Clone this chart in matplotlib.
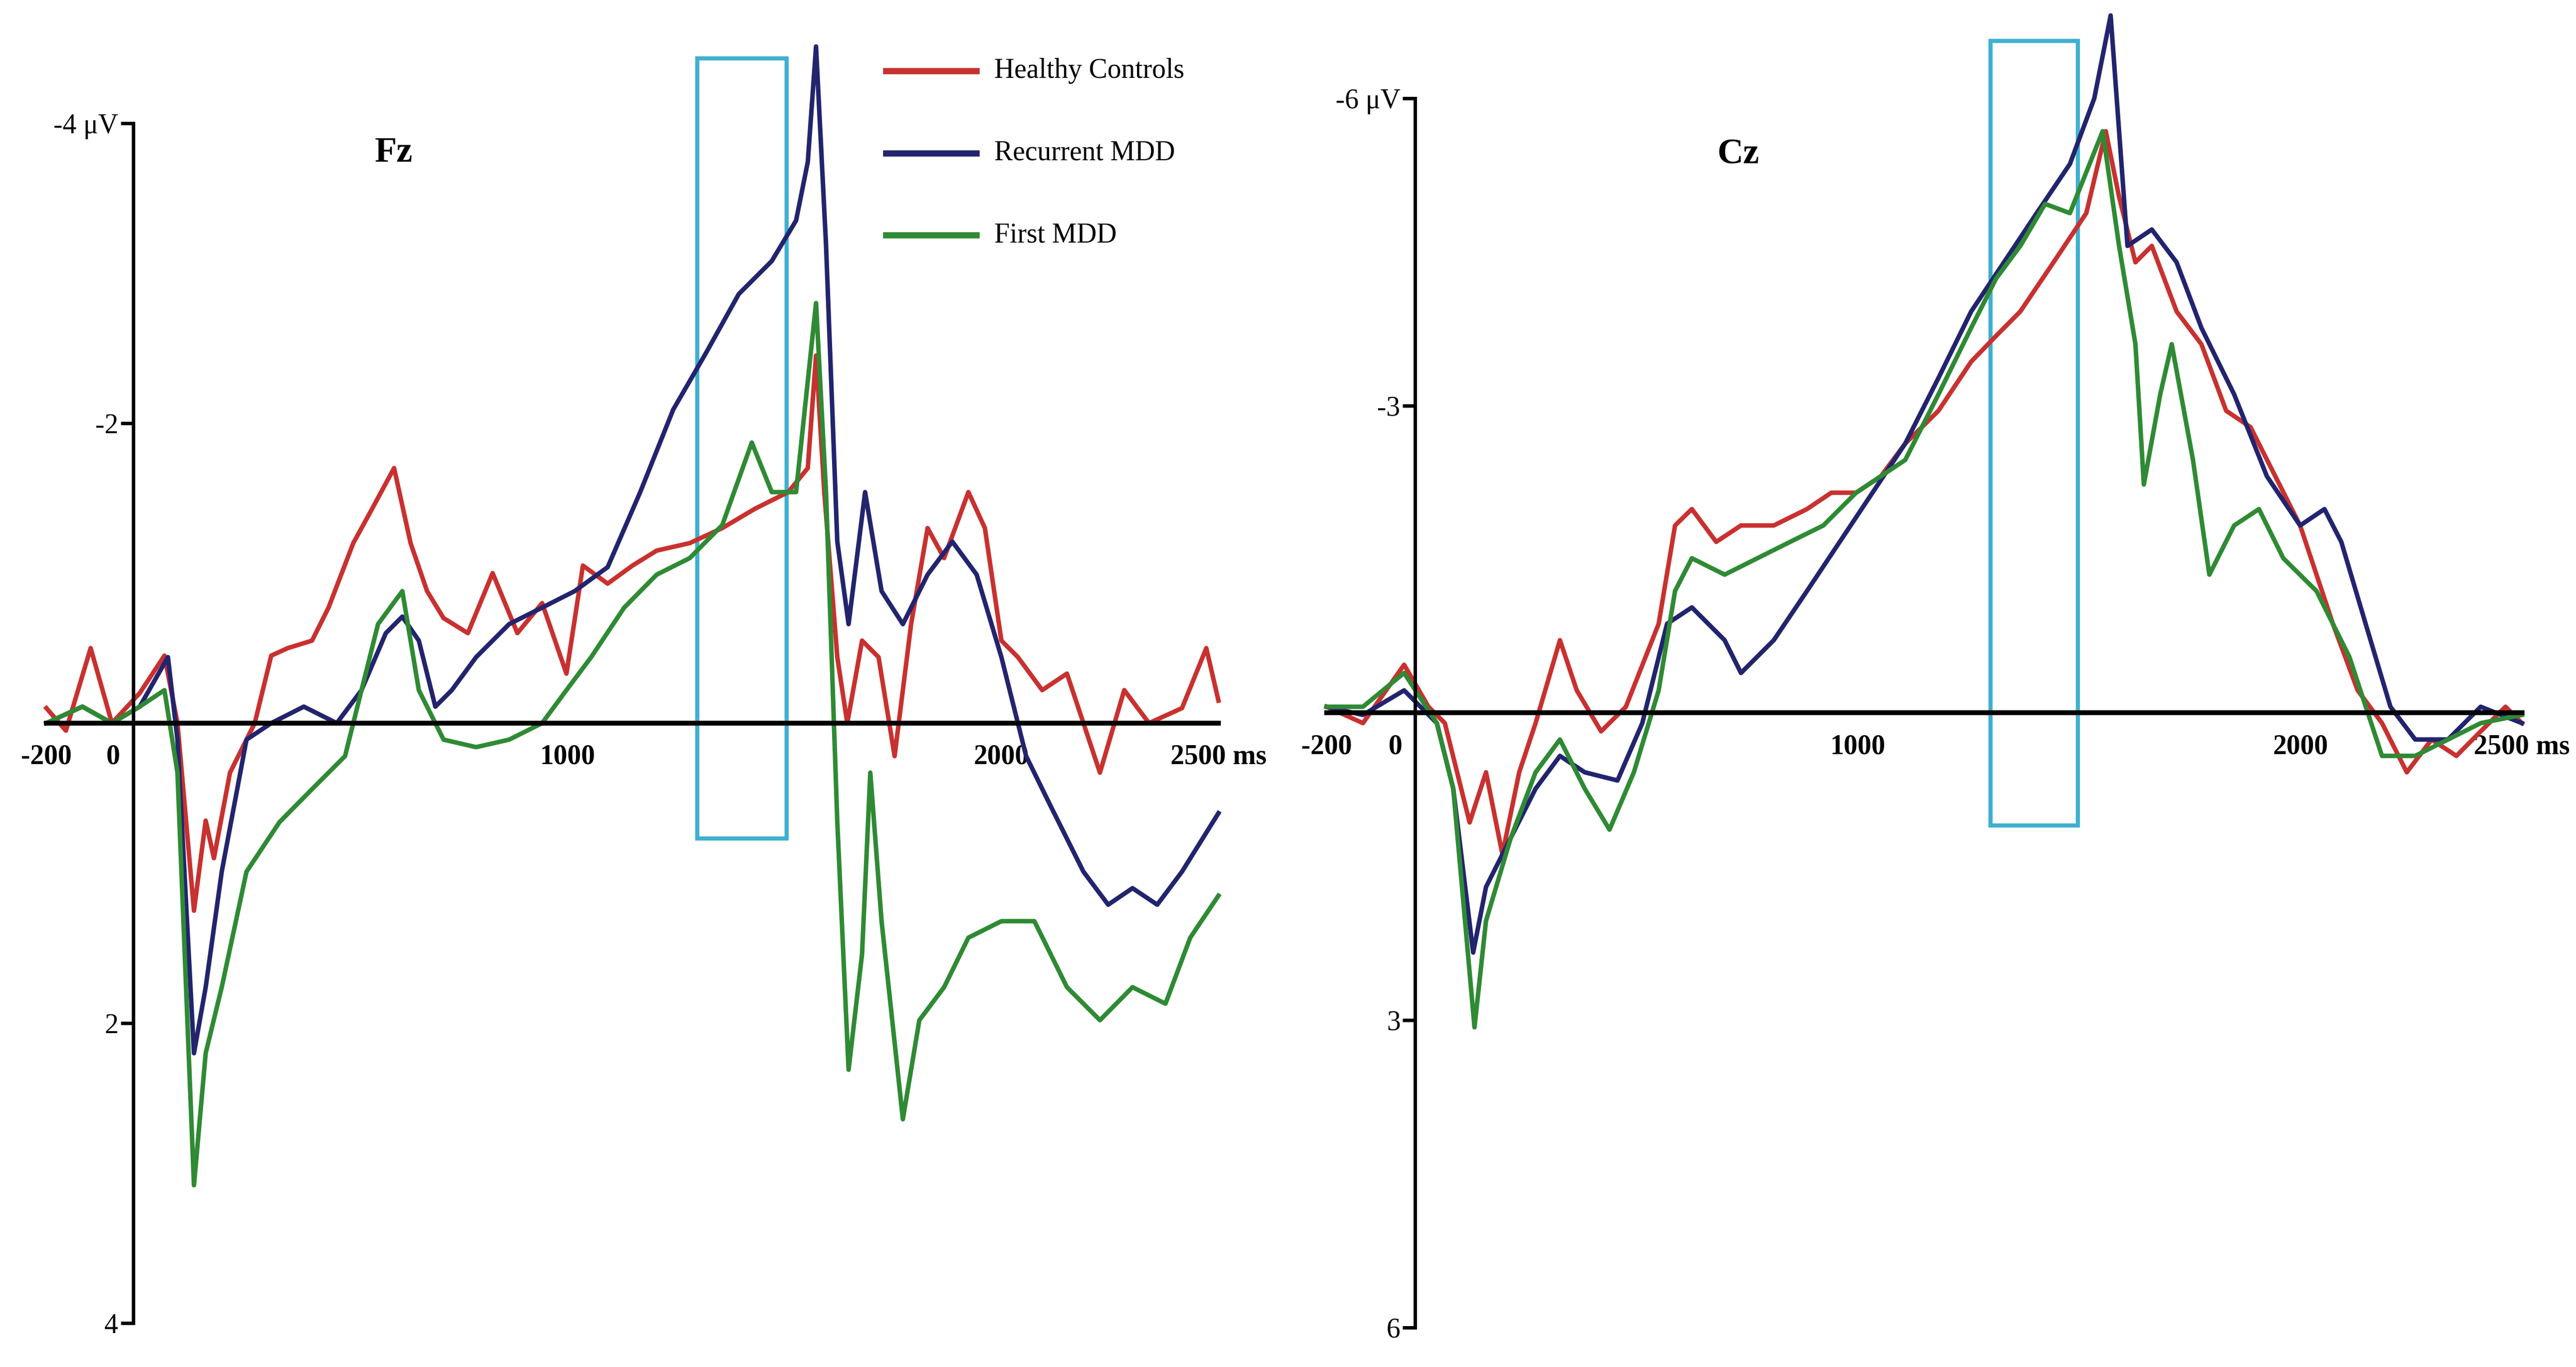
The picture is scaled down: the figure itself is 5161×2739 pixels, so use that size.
import matplotlib.pyplot as plt
import matplotlib.transforms as mtransforms
from matplotlib.lines import Line2D
from matplotlib.patches import Rectangle

plt.rcParams['font.family'] = ['Liberation Serif', 'DejaVu Serif']

# Fz (ms, uV; negative plotted upward)
fz_hc_t = [-200,-155,-98,-49,15,72,102,140,167,186,223,280,318,356,412,450,507,545,601,639,677,715,771,828,885,942,998,1036,1093,1150,1206,1282,1357,1433,1509,1554,1573,1592,1622,1645,1679,1717,1754,1792,1830,1868,1924,1962,2000,2038,2094,2151,2227,2283,2340,2416,2472,2500]
fz_hc_v = [-0.1,0.05,-0.5,0,-0.2,-0.45,0,1.25,0.65,0.9,0.33,0,-0.45,-0.5,-0.55,-0.77,-1.2,-1.4,-1.7,-1.2,-0.88,-0.7,-0.6,-1.0,-0.6,-0.8,-0.33,-1.05,-0.93,-1.05,-1.15,-1.2,-1.3,-1.43,-1.54,-1.7,-2.45,-1.54,-0.44,0,-0.55,-0.44,0.22,-0.66,-1.3,-1.1,-1.54,-1.3,-0.55,-0.44,-0.22,-0.33,0.33,-0.22,0,-0.1,-0.5,-0.15]
fz_rec_t = [-200,-117,-49,15,80,102,140,167,204,261,318,393,469,526,582,620,658,696,734,790,866,942,1017,1093,1168,1244,1320,1395,1471,1527,1554,1573,1596,1622,1648,1686,1724,1773,1830,1887,1943,2000,2057,2113,2189,2246,2302,2359,2416,2500]
fz_rec_v = [0,-0.11,0,-0.11,-0.44,0.11,2.2,1.76,0.99,0.11,0,-0.11,0,-0.22,-0.6,-0.71,-0.55,-0.11,-0.22,-0.44,-0.66,-0.77,-0.88,-1.04,-1.54,-2.09,-2.47,-2.86,-3.08,-3.35,-3.74,-4.51,-3.19,-1.21,-0.66,-1.54,-0.88,-0.66,-0.99,-1.21,-0.99,-0.44,0.22,0.55,0.99,1.21,1.1,1.21,0.99,0.6]
fz_first_t = [-200,-117,-49,15,72,102,140,167,204,261,337,412,488,564,620,658,715,790,866,942,998,1055,1131,1206,1282,1357,1425,1471,1527,1573,1596,1622,1648,1679,1698,1724,1773,1811,1868,1924,2000,2076,2151,2227,2302,2378,2435,2500]
fz_first_v = [0,-0.11,0,-0.11,-0.22,0.33,3.08,2.2,1.76,0.99,0.66,0.44,0.22,-0.66,-0.88,-0.22,0.11,0.16,0.11,0,-0.22,-0.44,-0.77,-0.99,-1.1,-1.32,-1.87,-1.54,-1.54,-2.8,-1.54,0.66,2.31,1.54,0.33,1.32,2.64,1.98,1.76,1.43,1.32,1.32,1.76,1.98,1.76,1.87,1.43,1.15]

# Cz
cz_hc_t = [-200,-118,-25,30,67,123,160,197,235,272,327,365,420,476,550,587,625,680,736,810,885,940,996,1052,1107,1182,1256,1312,1367,1442,1516,1560,1590,1627,1664,1720,1776,1832,1887,1943,1999,2073,2129,2184,2240,2296,2352,2407,2463,2500]
cz_hc_v = [-0.06,0.1,-0.47,-0.06,0.1,1.07,0.58,1.38,0.58,0.1,-0.71,-0.22,0.18,-0.06,-0.87,-1.83,-1.99,-1.67,-1.83,-1.83,-1.99,-2.15,-2.15,-2.31,-2.63,-2.95,-3.43,-3.68,-3.92,-4.4,-4.88,-5.68,-5.04,-4.4,-4.56,-3.92,-3.6,-2.95,-2.79,-2.31,-1.83,-0.87,-0.22,0.1,0.58,0.26,0.42,0.18,-0.06,0.1]
cz_rec_t = [-200,-118,-25,49,86,131,160,216,272,327,383,457,513,569,625,699,736,810,885,959,1033,1107,1182,1256,1330,1404,1479,1534,1571,1609,1664,1720,1776,1850,1924,1999,2054,2092,2147,2203,2259,2333,2407,2500]
cz_rec_v = [-0.06,0.02,-0.22,0.1,0.74,2.34,1.7,1.22,0.74,0.42,0.58,0.66,0.1,-0.87,-1.03,-0.71,-0.39,-0.71,-1.19,-1.67,-2.15,-2.63,-3.27,-3.92,-4.4,-4.88,-5.36,-6.0,-6.81,-4.56,-4.72,-4.4,-3.76,-3.11,-2.31,-1.83,-1.99,-1.67,-0.87,-0.06,0.26,0.26,-0.06,0.1]
cz_first_t = [-200,-118,-25,49,86,134,160,216,272,327,383,439,494,550,587,625,699,773,847,922,996,1107,1182,1256,1312,1367,1423,1479,1553,1590,1627,1646,1683,1709,1757,1794,1850,1906,1961,2036,2110,2184,2259,2333,2407,2500]
cz_first_v = [-0.06,-0.06,-0.39,0.1,0.74,3.07,2.03,1.22,0.58,0.26,0.74,1.14,0.58,-0.22,-1.19,-1.51,-1.35,-1.51,-1.67,-1.83,-2.15,-2.47,-3.11,-3.76,-4.24,-4.56,-4.97,-4.88,-5.68,-4.56,-3.6,-2.23,-3.11,-3.6,-2.47,-1.35,-1.83,-1.99,-1.51,-1.19,-0.55,0.42,0.42,0.26,0.1,0.02]

labels = ['Healthy Controls', 'Recurrent MDD', 'First MDD']
colors = ['#c8312f', '#22246e', '#2f8a34']
xticks = [-200, 0, 1000, 2000, 2500]
xticklabels = ['-200', '0', '1000', '2000', '2500 ms']

fig = plt.figure(figsize=(51.61, 27.39), dpi=100)
ax1 = fig.add_axes([0.018, 0.032, 0.455, 0.878])
ax2 = fig.add_axes([0.515, 0.029, 0.464, 0.899])

panels = [
    (ax1, 'Fz', [(fz_hc_t, fz_hc_v), (fz_rec_t, fz_rec_v), (fz_first_t, fz_first_v)],
     4, [-4, -2, 2, 4], ['-4 μV', '-2', '2', '4'], (1300, 1505, -4.43, 0.77), (600, -3.8)),
    (ax2, 'Cz', [(cz_hc_t, cz_hc_v), (cz_rec_t, cz_rec_v), (cz_first_t, cz_first_v)],
     6, [-6, -3, 3, 6], ['-6 μV', '-3', '3', '6'], (1300, 1497, -6.56, 1.1), (730, -5.45)),
]

for ax, name, series, lim, yt, ytl, box, tpos in panels:
    for (t, v), c in zip(series, colors):
        ax.plot(t, v, color=c, lw=6.5, clip_on=False)
    ax.set_xlim(-200, 2500)
    ax.set_ylim(lim, -lim)
    ax.spines[['top', 'right']].set_visible(False)
    ax.spines['left'].set_position(('data', 0))
    ax.spines['bottom'].set_position(('data', 0))
    ax.spines['left'].set_linewidth(5)
    ax.spines['bottom'].set_linewidth(7)
    ax.set_yticks(yt)
    ax.set_yticklabels(ytl, fontsize=40)
    ax.set_xticks(xticks)
    ax.set_xticklabels(xticklabels, fontsize=40, fontweight='bold')
    ax.tick_params(axis='y', length=18, width=5)
    ax.tick_params(axis='x', length=0, pad=30)
    # move the "0" label left of the vertical axis
    zero_lab = ax.get_xticklabels()[1]
    zero_lab.set_transform(zero_lab.get_transform() +
                           mtransforms.ScaledTranslation(-0.4, 0, fig.dpi_scale_trans))
    ax.add_patch(Rectangle((box[0], box[2]), box[1] - box[0], box[3] - box[2],
                           fill=False, ec='#3fb0d0', lw=6, clip_on=False))
    ax.text(tpos[0], tpos[1], name, fontsize=52, fontweight='bold', ha='center', va='center')
    ax.patch.set_alpha(0)

for i, (lab, c) in enumerate(zip(labels, colors)):
    y = 0.948 - 0.06 * i
    fig.add_artist(Line2D([0.344, 0.379], [y, y], color=c, lw=9))
    fig.text(0.386, y, lab, fontsize=40, va='center')

fig.savefig('out.png', dpi=100)
